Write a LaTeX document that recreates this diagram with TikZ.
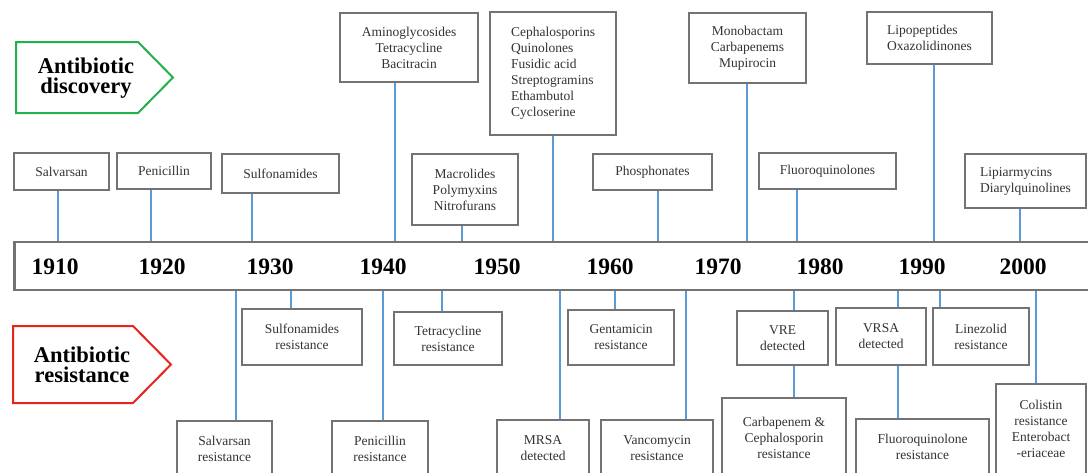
\documentclass[tikz,border=0pt]{standalone}
\usepackage{fontspec}
\setmainfont{Liberation Serif}
\usepackage{tikz}
\usepackage{xcolor}
\definecolor{Frame}{HTML}{737373}
\definecolor{Wire}{HTML}{5B9BD5}
\definecolor{Ink}{HTML}{333333}
\definecolor{Green}{HTML}{22B14C}
\definecolor{Red}{HTML}{E8231E}
\tikzset{
  event/.style={
    draw=Frame,line width=2.8pt,fill=white,inner sep=2pt,
    align=center,text=Ink,font=\fontsize{13.5}{16}\selectfont
  },
  wh/.style 2 args={minimum width=#1pt,minimum height=#2pt},
  wire/.style={draw=Wire,line width=1.4pt},
  year/.style={font=\fontsize{23.5}{28}\selectfont\bfseries},
  banner/.style={line width=2pt,line join=miter},
  tag/.style={font=\fontsize{22.5}{20.5}\selectfont\bfseries,align=center}
}

\begin{document}
\begin{tikzpicture}[x=1pt,y=-1pt]
  \clip (0,0) rectangle (1088,472);
  % timeline bar
  \node[draw=Frame,line width=2.8pt,fill=white,inner sep=0pt,anchor=west,
    minimum width=1090pt,minimum height=48pt] (bar) at (13,266) {};
  \foreach \yr/\x in {1910/55,1920/162,1930/270,1940/383,1950/497,
      1960/610,1970/718,1980/820,1990/922,2000/1023}
    \node[year] (y\yr) at (\x,267) {\yr};

  % banners
  \draw[banner,draw=Green] (16,42) -- (138,42) -- (173,77.5)
    -- (138,113) -- (16,113) -- cycle;
  \node[tag] (disc) at (86,78) {Antibiotic\\discovery};
  \draw[banner,draw=Red] (13,326) -- (133,326) -- (171,364.5)
    -- (133,403) -- (13,403) -- cycle;
  \node[tag] (resi) at (82,365) {Antibiotic\\resistance};

  % discovery
  \node[event,wh={95}{37}] (salv) at (61.5,171.5) {Salvarsan};
  \node[event,wh={94}{36}] (peni) at (164,171) {Penicillin};
  \node[event,wh={117}{39}] (sulf) at (280.5,173.5) {Sulfonamides};
  \node[event,wh={106}{71}] (macr) at (465,189.5)
    {Macrolides\\Polymyxins\\Nitrofurans};
  \node[event,wh={119}{36}] (phos) at (652.5,172) {Phosphonates};
  \node[event,wh={137}{36}] (fluo) at (827.5,171) {Fluoroquinolones};
  \node[event,wh={121}{54},align=left] (lipi) at (1025.5,181)
    {Lipiarmycins\\Diarylquinolines};
  \node[event,wh={138}{69}] (amin) at (409,47.5)
    {Aminoglycosides\\Tetracycline\\Bacitracin};
  \node[event,wh={126}{123},align=left] (ceph) at (553,73.5)
    {Cephalosporins\\Quinolones\\Fusidic acid\\Streptogramins\\Ethambutol\\Cycloserine};
  \node[event,wh={117}{70}] (mono) at (747.5,48)
    {Monobactam\\Carbapenems\\Mupirocin};
  \node[event,wh={125}{52},align=left] (lipo) at (929.5,38)
    {Lipopeptides\\Oxazolidinones};

  % resistance
  \node[event,wh={120}{56}] (sulfr) at (302,337) {Sulfonamides\\resistance};
  \node[event,wh={108}{53}] (tetr) at (448,338.5) {Tetracycline\\resistance};
  \node[event,wh={106}{55}] (gent) at (621,337.5) {Gentamicin\\resistance};
  \node[event,wh={91}{54}] (vre) at (782.5,338) {VRE\\detected};
  \node[event,wh={90}{57}] (vrsa) at (881,336.5) {VRSA\\detected};
  \node[event,wh={96}{57}] (linr) at (981,336.5) {Linezolid\\resistance};
  \node[event,wh={95}{55}] (salvr) at (224.5,448.5) {Salvarsan\\resistance};
  \node[event,wh={96}{55}] (penir) at (380,448.5) {Penicillin\\resistance};
  \node[event,wh={92}{56}] (mrsa) at (543,448) {MRSA\\detected};
  \node[event,wh={112}{56}] (vanc) at (657,448) {Vancomycin\\resistance};
  \node[event,wh={124}{79}] (carb) at (784,437.5)
    {Carbapenem \&\\Cephalosporin\\resistance};
  \node[event,wh={133}{56}] (fluor) at (922.5,447) {Fluoroquinolone\\resistance};
  \node[event,wh={90}{90}] (coli) at (1041,429)
    {Colistin\\resistance\\Enterobact\\-eriaceae};

  % connectors
  \foreach \n/\x in {salv/58,peni/151,sulf/252,macr/462,phos/658,fluo/797,
      lipi/1020,amin/395,ceph/553,mono/747,lipo/934}
    \draw[wire] (\n.south -| \x,0) -- (bar.north -| \x,0);
  \foreach \n/\x in {sulfr/291,tetr/442,gent/615,vre/794,vrsa/898,linr/940,
      salvr/236,penir/383,mrsa/560,vanc/686,coli/1036}
    \draw[wire] (bar.south -| \x,0) -- (\n.north -| \x,0);
  \draw[wire] (vre.south -| 794,0) -- (carb.north -| 794,0);
  \draw[wire] (vrsa.south -| 898,0) -- (fluor.north -| 898,0);
\end{tikzpicture}
\end{document}
